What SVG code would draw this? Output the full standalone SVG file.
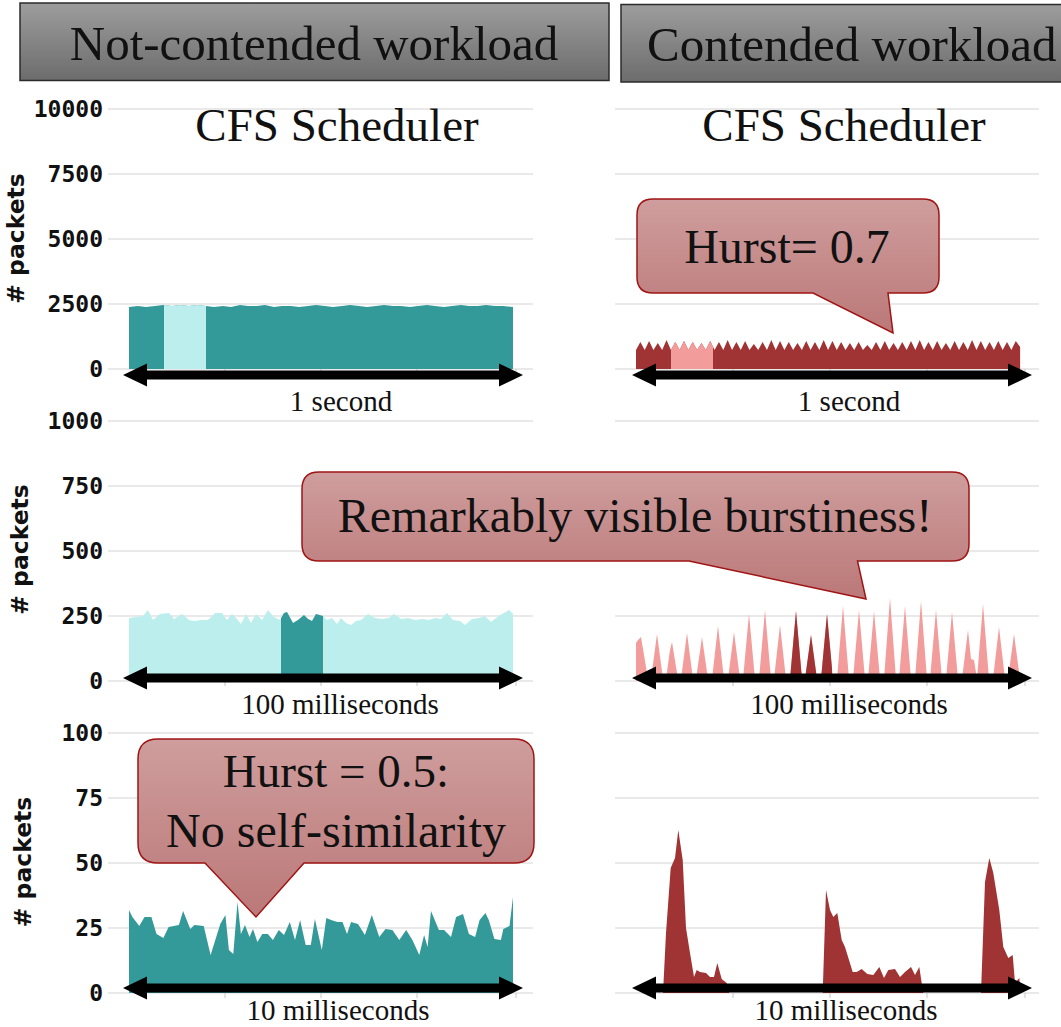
<svg xmlns="http://www.w3.org/2000/svg" width="1061" height="1027" viewBox="0 0 1061 1027">
  <style>
    .grid { stroke: #e2e2e2; stroke-width: 1.5; fill: none; }
    .xtick { stroke: #cfcfcf; stroke-width: 1.2; }
    .ylab { font-family: "DejaVu Sans Mono", "Liberation Mono", monospace; font-weight: bold; font-size: 23px; text-anchor: end; fill: #111; }
    .ytitle { font-family: "DejaVu Sans", "Liberation Sans", sans-serif; font-weight: bold; font-size: 23.5px; text-anchor: middle; fill: #111; }
    .serif { font-family: "Liberation Serif", "Times New Roman", serif; fill: #111; }
    .big { font-size: 47px; }
    .head { font-size: 49px; }
    .note { font-size: 48px; }
    .cap { font-size: 29px; text-anchor: middle; }
    .mid { text-anchor: middle; }
    .teal { fill: #349a99; }
    .teal-light { fill: #bdeeee; }
    .red { fill: #a03333; }
    .pink { fill: #f39c9c; }
    .header { fill: url(#headerFill); stroke: #2b2b2b; stroke-width: 1.5; }
    .bubble { fill: url(#bubbleFill); stroke: #a01414; stroke-width: 1.5; }
    .span { fill: #000; }
  </style>
  <defs>
    <linearGradient id="headerFill" x1="0" y1="0" x2="0" y2="1">
      <stop offset="0" stop-color="#9d9d9d"/>
      <stop offset="1" stop-color="#6c6c6c"/>
    </linearGradient>
    <linearGradient id="bubbleFill" x1="0" y1="0" x2="0" y2="1">
      <stop offset="0" stop-color="#cf9d9d"/>
      <stop offset="1" stop-color="#bb7878"/>
    </linearGradient>
    <!-- double-headed span arrow, 400 px long, centred on y=0 -->
    <path id="spanArrow" d="M0,0 L24,-11.5 L24,-4.5 L376,-4.5 L376,-11.5 L400,0 L376,11.5 L376,4.5 L24,4.5 L24,11.5 Z"/>
    <!-- five horizontal gridlines, 65 px apart -->
    <g id="gridL">
      <line class="grid" x1="108" y1="0" x2="533" y2="0"/>
      <line class="grid" x1="108" y1="65" x2="533" y2="65"/>
      <line class="grid" x1="108" y1="130" x2="533" y2="130"/>
      <line class="grid" x1="108" y1="195" x2="533" y2="195"/>
      <line class="grid" x1="108" y1="260" x2="533" y2="260"/>
      <line class="xtick" x1="225" y1="260" x2="225" y2="265"/>
      <line class="xtick" x1="321" y1="260" x2="321" y2="265"/>
      <line class="xtick" x1="417" y1="260" x2="417" y2="265"/>
      <line class="xtick" x1="516" y1="260" x2="516" y2="265"/>
    </g>
    <g id="gridR">
      <line class="grid" x1="615" y1="0" x2="1039" y2="0"/>
      <line class="grid" x1="615" y1="65" x2="1039" y2="65"/>
      <line class="grid" x1="615" y1="130" x2="1039" y2="130"/>
      <line class="grid" x1="615" y1="195" x2="1039" y2="195"/>
      <line class="grid" x1="615" y1="260" x2="1039" y2="260"/>
      <line class="xtick" x1="733" y1="260" x2="733" y2="265"/>
      <line class="xtick" x1="830" y1="260" x2="830" y2="265"/>
      <line class="xtick" x1="927" y1="260" x2="927" y2="265"/>
      <line class="xtick" x1="1025" y1="260" x2="1025" y2="265"/>
    </g>
    <clipPath id="cutR1L"><rect x="164" y="290" width="42" height="90"/></clipPath>
    <clipPath id="cutR1R"><rect x="671" y="330" width="42" height="50"/></clipPath>
    <clipPath id="cutR2L"><rect x="281" y="590" width="42" height="100"/></clipPath>
    <clipPath id="cutR2R"><rect x="789" y="590" width="43" height="100"/></clipPath>
    <!-- traffic traces -->
    <path id="traceR1L" d="M129,369 V307 L138,306 L146,307 L155,306 L163,305 L172,306 L180,305 L189,306 L197,305 L206,306 L214,307 L223,306 L231,307 L240,305 L248,306 L257,306 L265,305 L274,307 L282,306 L291,306 L299,307 L308,306 L316,305 L325,306 L333,307 L342,306 L350,305 L359,306 L367,307 L376,306 L384,305 L393,306 L401,306 L410,307 L418,306 L427,305 L435,306 L444,307 L452,306 L461,305 L469,306 L478,306 L486,305 L495,306 L503,306 L513,307 V369 Z"/>
    <!-- 44 teeth of 8.73 px between x=636 and x=1020 -->
    <path id="traceR1R" d="M636,369 V350
      l4.36,-8 l4.37,8 l4.36,-9 l4.37,9 l4.36,-7 l4.37,7 l4.36,-10 l4.37,10
      l4.36,-8 l4.37,8 l4.36,-9 l4.37,9 l4.36,-8 l4.37,8 l4.36,-7 l4.37,7
      l4.36,-9 l4.37,9 l4.36,-8 l4.37,8 l4.36,-10 l4.37,10 l4.36,-8 l4.37,8
      l4.36,-9 l4.37,9 l4.36,-6 l4.37,6 l4.36,-8 l4.37,8 l4.36,-10 l4.37,10
      l4.36,-9 l4.37,9 l4.36,-8 l4.37,8 l4.36,-7 l4.37,7 l4.36,-9 l4.37,9
      l4.36,-8 l4.37,8 l4.36,-10 l4.37,10 l4.36,-9 l4.37,9 l4.36,-8 l4.37,8
      l4.36,-7 l4.37,7 l4.36,-8 l4.37,8 l4.36,-5 l4.37,5 l4.36,-8 l4.37,8
      l4.36,-9 l4.37,9 l4.36,-7 l4.37,7 l4.36,-8 l4.37,8 l4.36,-9 l4.37,9
      l4.36,-10 l4.37,10 l4.36,-8 l4.37,8 l4.36,-9 l4.37,9 l4.36,-7 l4.37,7
      l4.36,-9 l4.37,9 l4.36,-8 l4.37,8 l4.36,-10 l4.37,10 l4.36,-9 l4.37,9
      l4.36,-8 l4.37,8 l4.36,-9 l4.37,9 l4.36,-8 l4.37,8 l4.36,-9 l4.37,6
      V369 Z"/>
    <path id="traceR2L" d="M129,681 V618 L136,617 L143,616 L148,610 L153,620 L160,614 L169,613 L174,619 L182,614 L189,620 L194,621 L201,620 L208,620 L215,613 L222,613 L227,620 L232,614 L237,619 L241,624 L246,614 L251,623 L256,614 L262,620 L268,610 L274,617 L280,620 L284,613 L287,612 L293,623 L298,620 L304,615 L308,619 L312,621 L316,614 L323,616 L327,620 L332,618 L337,624 L341,618 L346,623 L351,625 L356,621 L361,620 L368,614 L375,618 L382,619 L389,618 L394,614 L401,619 L408,618 L415,620 L422,619 L429,620 L435,618 L441,619 L447,613 L453,620 L460,621 L465,625 L472,619 L479,618 L485,616 L491,622 L496,618 L502,614 L509,610 L513,614 V681 Z"/>
    <path id="traceR2R" d="M636,681 V643 L638,640 L641,637 L648,679 L651,679 L657,634 L663,679 L666,679 L670,650 L672,642 L678,679 L681,679 L687,633 L693,679 L696,679 L702,637 L708,679 L712,679 L718,626 L724,679 L728,679 L734,632 L740,679 L743,679 L749,614 L755,679 L759,679 L765,610 L771,679 L774,679 L780,625 L786,679 L790,679 L796,611 L802,679 L805,679 L811,635 L817,679 L821,679 L827,614 L833,679 L837,679 L843,606 L849,679 L853,679 L859,610 L865,679 L868,679 L874,611 L880,679 L884,679 L890,598 L896,679 L899,679 L905,606 L911,679 L915,679 L921,601 L927,679 L930,679 L936,610 L942,679 L946,679 L952,612 L958,679 L962,679 L968,630 L971,659 L974,660 L977,679 L983,604 L989,679 L993,679 L999,627 L1005,679 L1008,679 L1014,634 L1020,679 V681 Z"/>
  </defs>

  <!-- column headers -->
  <g id="header-not-contended">
    <rect class="header" x="20" y="3" width="589" height="77.5"/>
    <text class="serif head mid" x="314" y="60">Not-contended workload</text>
  </g>
  <g id="header-contended">
    <rect class="header" x="621" y="4.5" width="445" height="77.5"/>
    <text class="serif head" x="647" y="61">Contended workload</text>
  </g>

  <!-- y axes: ticks and titles -->
  <g id="y-axis-1s">
    <text class="ylab" x="103" y="117">10000</text>
    <text class="ylab" x="103" y="182">7500</text>
    <text class="ylab" x="103" y="247">5000</text>
    <text class="ylab" x="103" y="312">2500</text>
    <text class="ylab" x="103" y="377">0</text>
    <text class="ytitle" transform="translate(24,238.5) rotate(-90)"># packets</text>
  </g>
  <g id="y-axis-100ms">
    <text class="ylab" x="103" y="429">1000</text>
    <text class="ylab" x="103" y="494">750</text>
    <text class="ylab" x="103" y="559">500</text>
    <text class="ylab" x="103" y="624">250</text>
    <text class="ylab" x="103" y="689">0</text>
    <text class="ytitle" transform="translate(28,549.5) rotate(-90)"># packets</text>
  </g>
  <g id="y-axis-10ms">
    <text class="ylab" x="103" y="741">100</text>
    <text class="ylab" x="103" y="806">75</text>
    <text class="ylab" x="103" y="871">50</text>
    <text class="ylab" x="103" y="936">25</text>
    <text class="ylab" x="103" y="1001">0</text>
    <text class="ytitle" transform="translate(31,862) rotate(-90)"># packets</text>
  </g>

  <!-- row 1: one second window -->
  <g id="chart-cfs-1s-idle">
    <use href="#gridL" y="109"/>
    <use href="#traceR1L" class="teal"/>
    <use href="#traceR1L" class="teal-light" clip-path="url(#cutR1L)"/>
    <text class="serif big mid" x="337" y="141">CFS Scheduler</text>
  </g>
  <g id="chart-cfs-1s-contended">
    <use href="#gridR" y="109"/>
    <use href="#traceR1R" class="red"/>
    <use href="#traceR1R" class="pink" clip-path="url(#cutR1R)"/>
    <text class="serif big mid" x="844" y="141">CFS Scheduler</text>
  </g>

  <!-- row 2: 100 ms window -->
  <g id="chart-cfs-100ms-idle">
    <use href="#gridL" y="421"/>
    <use href="#traceR2L" class="teal-light"/>
    <use href="#traceR2L" class="teal" clip-path="url(#cutR2L)"/>
  </g>
  <g id="chart-cfs-100ms-contended">
    <use href="#gridR" y="421"/>
    <use href="#traceR2R" class="pink"/>
    <use href="#traceR2R" class="red" clip-path="url(#cutR2R)"/>
  </g>

  <!-- row 3: 10 ms window -->
  <g id="chart-cfs-10ms-idle">
    <use href="#gridL" y="733"/>
    <path class="teal" d="M129,993 V910 L132.4,917 L139.3,926 L144.5,917 L151.4,917 L156.5,934 L163.4,938 L168.6,927 L178.9,925 L183.1,911 L190.3,929 L194.4,925 L203.7,926 L210.6,955 L220.3,924 L225.4,915 L228.9,950 L233.3,954 L237.5,902 L240.9,934 L245,925 L249.5,937 L253,929 L257.4,942 L262.3,934 L267.8,934 L272.9,940 L278.8,930 L284,935 L289.8,922 L295,940 L300.1,920 L305.7,945 L310.8,945 L314.9,919 L321.8,950 L326.3,918 L331.1,920 L337.3,922 L342.5,922 L347,934 L351.1,922 L358,924 L364.9,935 L371.8,915 L379.3,937 L385.5,929 L392.4,930 L399.3,940 L406.2,930 L412.4,940 L419.3,955 L424.1,935 L427.6,947 L431,911 L438.9,930 L444.1,930 L451,937 L456.1,917 L463,914 L468.9,934 L475.1,937 L479.6,920 L485.4,913 L488.8,920 L494.4,939 L500.9,940 L503.3,929 L509.5,926 L513,897 V993 Z"/>
  </g>
  <g id="chart-cfs-10ms-contended">
    <use href="#gridR" y="733"/>
    <path class="red" d="M663,993 L666,933 L670.7,868 L675,858 L678.3,830 L682.7,860 L686,928 L690,953 L694,977 L696.7,970 L700,972 L706,973 L710,977 L714,977 L717.3,963 L721.7,979 L726.7,983 L729.3,993 Z M822.7,993 L826,890 L830,910 L833.3,917 L837.3,913 L841.7,940 L845,947 L852.7,972 L856.7,972 L861.7,969 L867.3,974 L873.3,975 L879.3,967 L884,978 L888.3,970 L895,969 L900,977 L905,972 L911,967 L915,975 L919.3,967 L921.7,983 L923.3,993 Z M981,993 L985,882 L989.3,858 L993.3,873 L999.3,910 L1003.3,947 L1008.3,958 L1012.7,955 L1015,983 L1019.3,978 L1020.7,993 Z"/>
  </g>

  <!-- time-span arrows under each chart -->
  <g id="spans">
    <use href="#spanArrow" class="span" x="123" y="375"/>
    <use href="#spanArrow" class="span" x="632" y="375"/>
    <use href="#spanArrow" class="span" x="123" y="678"/>
    <use href="#spanArrow" class="span" x="632" y="678"/>
    <use href="#spanArrow" class="span" x="123" y="988"/>
    <use href="#spanArrow" class="span" x="632" y="988"/>
  </g>
  <g id="span-labels">
    <text class="serif cap" x="341" y="411">1 second</text>
    <text class="serif cap" x="849" y="411">1 second</text>
    <text class="serif cap" x="340" y="714">100 milliseconds</text>
    <text class="serif cap" x="849" y="714">100 milliseconds</text>
    <text class="serif cap" x="338" y="1020">10 milliseconds</text>
    <text class="serif cap" x="846" y="1020">10 milliseconds</text>
  </g>

  <!-- annotation bubbles -->
  <g id="note-hurst-07">
    <path class="bubble" d="M653,199 H923 Q939,199 939,215 V277 Q939,293 923,293 H888 L893,333 L813,293 H653 Q637,293 637,277 V215 Q637,199 653,199 Z"/>
    <text class="serif note mid" x="787" y="263">Hurst= 0.7</text>
  </g>
  <g id="note-burstiness">
    <path class="bubble" d="M319,472 H952 Q969,472 969,489 V544 Q969,561 952,561 H857.5 L866,599 L689,561 H319 Q302,561 302,544 V489 Q302,472 319,472 Z"/>
    <text class="serif note mid" x="635" y="532">Remarkably visible burstiness!</text>
  </g>
  <g id="note-hurst-05">
    <path class="bubble" d="M158,739 H514 Q534,739 534,759 V843 Q534,863 514,863 H304 L256,917 L205,863 H158 Q138,863 138,843 V759 Q138,739 158,739 Z"/>
    <text class="serif big mid" x="336" y="787">Hurst = 0.5:</text>
    <text class="serif note mid" x="336" y="847">No self-similarity</text>
  </g>
</svg>
